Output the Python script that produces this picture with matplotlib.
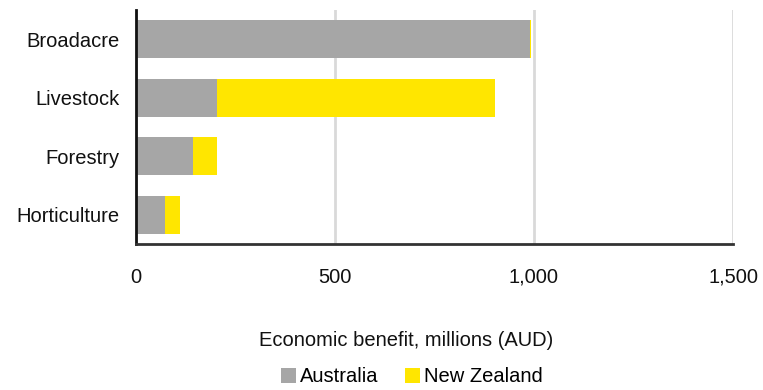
import matplotlib
matplotlib.use('Agg')
import matplotlib.pyplot as plt
import numpy as np

plt.rcParams['font.family'] = ['Liberation Sans Narrow', 'Liberation Sans', 'DejaVu Sans']

# Economic benefit by sector, millions AUD
sectors = ['Broadacre', 'Livestock', 'Forestry', 'Horticulture']
australia = [989, 203, 142, 73]
new_zealand = [4, 700, 61, 37]

grey = '#a6a6a6'
yellow = '#ffe600'
fs = 14.5

fig = plt.figure(figsize=(7.63, 3.90), dpi=100)
ax = fig.add_axes([136/763, 1-244/390, (733-136)/763, (244-10)/390])

y = np.arange(len(sectors))
ax.barh(y, australia, height=0.645, color=grey, label='Australia', zorder=3)
ax.barh(y, new_zealand, left=australia, height=0.645, color=yellow, label='New Zealand', zorder=3)

ax.set_ylim(len(sectors) - 0.5, -0.5)
ax.set_yticks(y)
ax.set_yticklabels(sectors)
ax.set_xlim(0, 1500)
ax.set_xticks([0, 500, 1000, 1500])
ax.set_xticklabels(['0', '500', '1,000', '1,500'])
ax.tick_params(length=0, labelsize=fs, colors='#111111')
ax.tick_params(axis='x', pad=17)
ax.tick_params(axis='y', pad=12)

ax.grid(axis='x', color='#d9d9d9', linewidth=2, zorder=0)
for s in ['top', 'right']:
    ax.spines[s].set_visible(False)
for s in ['left', 'bottom']:
    ax.spines[s].set_linewidth(2)
    ax.spines[s].set_zorder(4)
ax.spines['left'].set_color('#111111')
ax.spines['bottom'].set_color('#333333')

fig.text(406/763, 1-340/390, 'Economic benefit, millions (AUD)', fontsize=fs,
         ha='center', va='center', color='#111111')

fig.legend(loc='center', bbox_to_anchor=(412/763, 1-377/390), ncol=2, frameon=False,
           fontsize=fs, handlelength=0.75, handleheight=0.75, handletextpad=0.2,
           columnspacing=1.3)

fig.savefig('out.png', dpi=100)
